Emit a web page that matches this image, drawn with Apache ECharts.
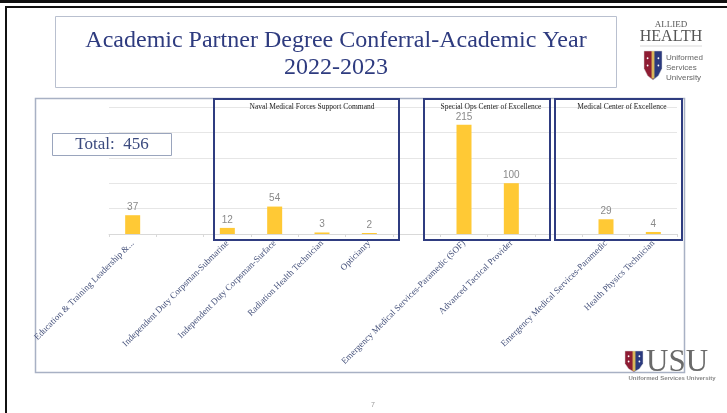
<!DOCTYPE html>
<html>
<head>
<meta charset="utf-8">
<script src="https://cdn.jsdelivr.net/npm/echarts@6/dist/echarts.min.js"></script>
<style>
html,body{margin:0;padding:0;background:#fff;}
#c{width:727px;height:413px;}
</style>
</head>
<body>
<div id="c"></div>
<script>
// ---- data ----
const categories = [
  'Education & Training Leadership &...',
  ' ',
  'Independent Duty Corpsman-Submarine',
  'Independent Duty Corpsman-Surface',
  'Radiation Health Technician',
  'Opticianry',
  '  ',
  'Emergency Medical Services-Paramedic (SOF)',
  'Advanced Tactical Provider',
  '   ',
  'Emergency Medical Services-Paramedic',
  'Health Physics Technician'
];
const degrees = [37, '-', 12, 54, 3, 2, '-', 215, 100, '-', 29, 4];
const yTicks = [0, 50, 100, 150, 200, 250];
const titleLines = ['Academic Partner Degree Conferral-Academic Year', '2022-2023'];
const totalText = 'Total:  456';
const groupTitles = ['Naval Medical Forces Support Command', 'Special Ops Center of Excellence', 'Medical Center of Excellence'];

// ---- decoration helpers ----
function shield(x, y, w, h) {
  const outline = [[0,0],[w,0],[w,0.6*h],[0.8*w,0.85*h],[0.5*w,h],[0.2*w,0.85*h],[0,0.6*h]];
  const left = [[0,0],[0.5*w,0],[0.5*w,h],[0.2*w,0.85*h],[0,0.6*h]];
  const right = [[0.5*w,0],[w,0],[w,0.6*h],[0.8*w,0.85*h],[0.5*w,h]];
  return {
    type: 'group', x: x, y: y, children: [
      {type:'polygon', shape:{points:left}, style:{fill:'#8e1c33'}},
      {type:'polygon', shape:{points:right}, style:{fill:'#2b3a7e'}},
      {type:'rect', shape:{x:0.42*w, y:0, width:0.16*w, height:0.95*h}, style:{fill:'#d8b65a'}},
      {type:'circle', shape:{cx:0.2*w, cy:0.25*h, r:Math.max(0.7, w*0.05)}, style:{fill:'#fff'}},
      {type:'circle', shape:{cx:0.2*w, cy:0.5*h, r:Math.max(0.7, w*0.05)}, style:{fill:'#fff'}},
      {type:'circle', shape:{cx:0.8*w, cy:0.25*h, r:Math.max(0.7, w*0.05)}, style:{fill:'#fff'}},
      {type:'circle', shape:{cx:0.8*w, cy:0.5*h, r:Math.max(0.7, w*0.05)}, style:{fill:'#fff'}},
      {type:'polygon', shape:{points:outline}, style:{fill:'none', stroke:'#d0d0d0', lineWidth:0.5}}
    ]
  };
}

const serif = 'Liberation Serif';
const sans = 'Liberation Sans';

const graphics = [
  // slide frame lines
  {type:'rect', shape:{x:0, y:0, width:727, height:3}, style:{fill:'#111'}},
  {type:'rect', shape:{x:5, y:6, width:722, height:2}, style:{fill:'#111'}},
  {type:'rect', shape:{x:5, y:6, width:2, height:407}, style:{fill:'#111'}},
  // title box
  {type:'rect', shape:{x:55.5, y:16.5, width:561, height:71}, style:{fill:'none', stroke:'#b9c0cf', lineWidth:1}},
  {type:'text', x:336, y:41, style:{text:titleLines[0], font:'24px "' + serif + '"', fill:'#2e3b7f', align:'center', verticalAlign:'middle'}},
  {type:'text', x:336, y:68, style:{text:titleLines[1], font:'24px "' + serif + '"', fill:'#2e3b7f', align:'center', verticalAlign:'middle'}},
  // allied health logo
  {type:'text', x:671, y:25, style:{text:'ALLIED', font:'9px "' + serif + '"', fill:'#555', align:'center', verticalAlign:'middle'}},
  {type:'text', x:671, y:37, style:{text:'HEALTH', font:'16px "' + serif + '"', fill:'#555', align:'center', verticalAlign:'middle'}},
  {type:'line', shape:{x1:640, y1:46, x2:702, y2:46}, style:{stroke:'#cfcfcf', lineWidth:0.8}},
  shield(644, 51, 18, 29),
  {type:'text', x:666, y:58, style:{text:'Uniformed', font:'8px "' + sans + '"', fill:'#666', verticalAlign:'middle'}},
  {type:'text', x:666, y:68, style:{text:'Services', font:'8px "' + sans + '"', fill:'#666', verticalAlign:'middle'}},
  {type:'text', x:666, y:78, style:{text:'University', font:'8px "' + sans + '"', fill:'#666', verticalAlign:'middle'}},
  // chart frame
  {type:'rect', shape:{x:35.5, y:98.5, width:649, height:274}, style:{fill:'none', stroke:'#a8b1c4', lineWidth:1.5}},
  // total box
  {type:'rect', shape:{x:52.5, y:133.5, width:119, height:22}, style:{fill:'#fff', stroke:'#9aa5bd', lineWidth:1}},
  {type:'text', x:112, y:145, style:{text:totalText, font:'17px "' + serif + '"', fill:'#3b4a7e', align:'center', verticalAlign:'middle'}},
  // group boxes
  {type:'rect', z:10, shape:{x:214, y:99, width:185, height:141}, style:{fill:'none', stroke:'#2f3c80', lineWidth:2}},
  {type:'rect', z:10, shape:{x:424, y:99, width:126, height:141}, style:{fill:'none', stroke:'#2f3c80', lineWidth:2}},
  {type:'rect', z:10, shape:{x:555, y:99, width:127, height:141}, style:{fill:'none', stroke:'#2f3c80', lineWidth:2}},
  {type:'text', z:10, x:312, y:107, style:{text:groupTitles[0], font:'7.5px "' + serif + '"', fill:'#222', align:'center', verticalAlign:'middle'}},
  {type:'text', z:10, x:491, y:107, style:{text:groupTitles[1], font:'7.5px "' + serif + '"', fill:'#222', align:'center', verticalAlign:'middle'}},
  {type:'text', z:10, x:622, y:107, style:{text:groupTitles[2], font:'7.5px "' + serif + '"', fill:'#222', align:'center', verticalAlign:'middle'}},
  // USU logo
  shield(625, 351, 18, 21),
  {type:'text', x:646, y:363, style:{text:'USU', font:'31px "' + serif + '"', fill:'#6a6a6a', verticalAlign:'middle'}},
  {type:'text', x:672, y:378, style:{text:'Uniformed Services University', font:'bold 6px "' + sans + '"', fill:'#888', align:'center', verticalAlign:'middle'}},
  // page number
  {type:'text', x:373, y:405, style:{text:'7', font:'7px "' + sans + '"', fill:'#999', align:'center', verticalAlign:'middle'}}
];

const chart = echarts.init(document.getElementById('c'), null, {renderer:'canvas'});
chart.setOption({
  animation: false,
  backgroundColor: '#fff',
  grid: {left: 109, right: 50, top: 107, bottom: 179, containLabel: false},
  xAxis: {
    type: 'category',
    data: categories,
    axisLine: {lineStyle: {color: '#d9d9d9', width: 1}},
    axisTick: {show: true, length: 3, lineStyle: {color: '#d9d9d9'}},
    axisLabel: {interval: 0, rotate: 45, margin: 8, fontFamily: serif, fontSize: 9, color: '#44507a'}
  },
  yAxis: {
    type: 'value',
    min: yTicks[0],
    max: yTicks[yTicks.length - 1],
    interval: yTicks[1] - yTicks[0],
    axisLabel: {show: false},
    axisLine: {show: false},
    axisTick: {show: false},
    splitLine: {lineStyle: {color: '#e6e6e6', width: 1}}
  },
  series: [{
    type: 'bar',
    data: degrees,
    barWidth: 15,
    itemStyle: {color: '#ffc935'},
    label: {show: true, position: 'top', distance: 3, fontFamily: sans, fontSize: 10, color: '#8a8a8a'}
  }],
  graphic: graphics
});
</script>
</body>
</html>
